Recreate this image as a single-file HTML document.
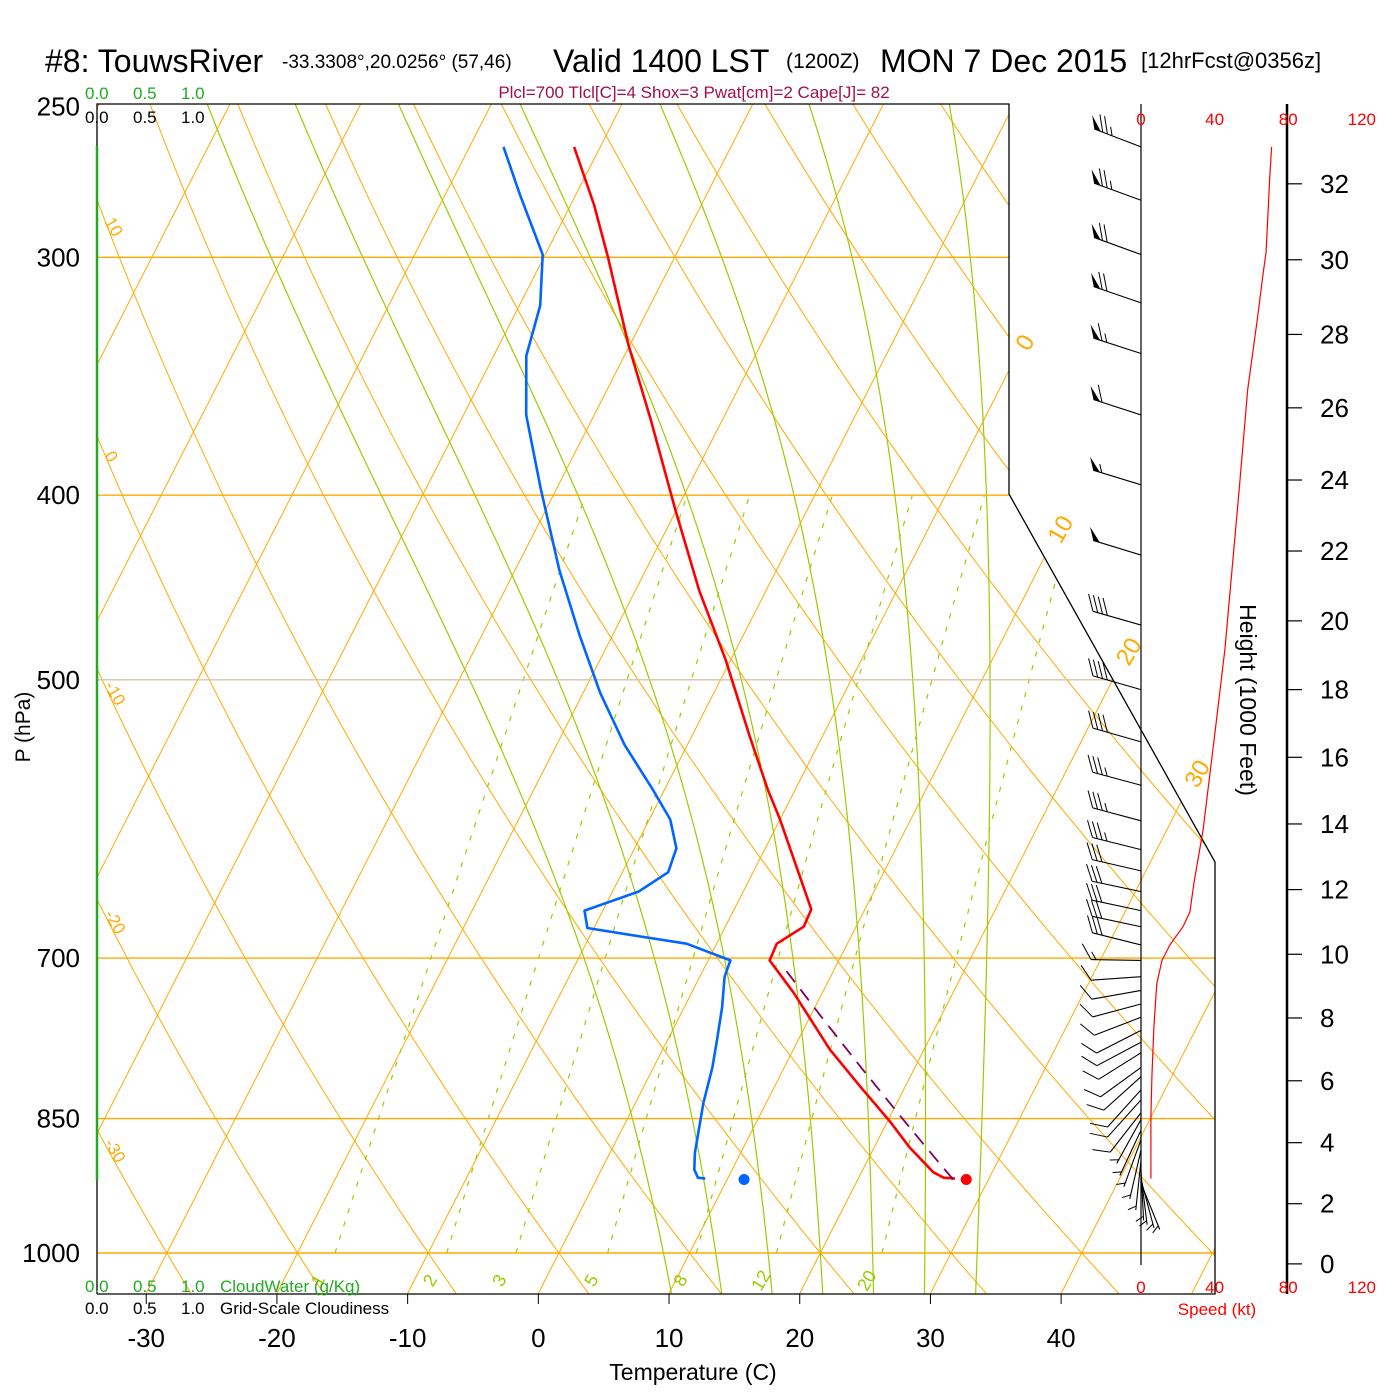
<!DOCTYPE html>
<html><head><meta charset="utf-8"><style>
html,body{margin:0;padding:0;background:#fff}
svg{display:block;font-family:"Liberation Sans",Arial,sans-serif}
</style></head><body>
<svg id="c" width="1400" height="1400" viewBox="0 0 1400 1400" xmlns="http://www.w3.org/2000/svg">
<defs><clipPath id="plotclip"><polygon points="97,104 1009,104 1009,494 1215,862 1215,1294 97,1294"/></clipPath></defs>
<rect width="1400" height="1400" fill="#fff"/>
<g id="title">
<text x="45" y="72" font-size="32">#8: TouwsRiver</text>
<text x="282" y="68" font-size="19">-33.3308°,20.0256° (57,46)</text>
<text x="553" y="72" font-size="32">Valid 1400 LST</text>
<text x="786" y="68" font-size="21">(1200Z)</text>
<text x="880" y="72" font-size="32">MON 7 Dec 2015</text>
<text x="1141" y="68" font-size="22">[12hrFcst@0356z]</text>
<text x="694" y="98" font-size="17" fill="#a0104a" text-anchor="middle">Plcl=700 Tlcl[C]=4 Shox=3 Pwat[cm]=2 Cape[J]= 82</text>
</g>
<g id="bg" clip-path="url(#plotclip)"></g>
<g id="frame"></g>
<g id="data"></g>
<g id="wind"></g>
<g id="axes"></g>
</svg>
<script>
const NS="http://www.w3.org/2000/svg";
// ---- data ----
const tempP=[262.5,281.6,300,333.6,365,407,449,488,535,571,592,660,674,688,702,730,782,819,853,880,907,913,914];
const tempT=[-42.0,-38.2,-35.1,-30.1,-25.5,-20.1,-15.1,-10.4,-5.6,-2.1,0.0,5.9,6.0,4.6,4.7,7.8,12.8,16.7,20.2,22.7,25.5,26.5,27.4];
const dewP=[262.5,278,299,318,338,363,397,438,474,508,541,571,592,613,631,646,661,675,682,688,702,716,743,770,799,834,886,904,913,914];
const dewT=[-47.4,-44.3,-40.2,-38.4,-37.5,-35.2,-31.2,-26.6,-22.5,-18.7,-14.8,-10.9,-8.4,-6.8,-6.5,-8.0,-11.4,-10.5,-6.1,-2.3,1.7,1.9,2.9,3.7,4.5,5.2,6.5,7.1,7.7,8.3];
const parcelP=[915,880,850,800,750,706];
const parcelStartT=27.3;
const sfcP=915, sfcT=28.3, sfcTd=11.3;
const windP=[262.5,280,299,317,337,363,395,430,468,506,539,568,593,614,630,646,661,674,689,702,716,728,740,752,764,775,785,799,808,821,831,844,851,862,872,883,894,905,910,915,919];
const windDir=[291,290,290,289,288,288,287,287,286,286,286,285,285,284,283,282,282,282,284,271,266,260,255,249,243,242,238,234,228,222,222,218,209,205,200,193,186,177,173,165,158];
const windSpd=[75,75,70,70,65,60,55,50,40,40,40,35,35,35,30,30,30,30,30,15,10,10,10,10,10,10,10,10,10,10,10,10,5,5,5,5,5,5,5,5,5];
const spdP=[262.5,272,298,308,322,352,396,482,535,600,639,662,674,689,702,722,761,808,848,914];
const spdV=[71,70,68,66,63.5,58,53.5,45.6,40,33.7,28.8,26.6,22.8,15.7,11.4,8.6,7,5.9,5.4,5.4];
const isotherms=[-110,-100,-90,-80,-70,-60,-50,-40,-30,-20,-10,0,10,20,30,40,50];
const dryAdiabats=[-30,-20,-10,0,10,20,30,40,50,60,70,80,90,100,110,120];
const moistAdiabats=[8,12,16,20,24,28,32];
const mixRatios=[1,2,3,5,8,12,20];
const pLevels=[250,300,400,500,700,850,1000];
const tTicks=[-30,-20,-10,0,10,20,30,40];
const hTicks=[0,2,4,6,8,10,12,14,16,18,20,22,24,26,28,30,32];
const spdTicks=[0,40,80,120];
// ---- scales ----
const yP=p=>1253-827*Math.log(1000/p);
const xTP=(T,p)=>538+13.07*T+0.51*(1294-yP(p));
const xSpd=s=>1141+1.84*s;
const pOfH=hk=>1013.25*Math.pow(1-6.8756e-6*hk*1000,5.2559);
const K=0.286;
function el(tag,attrs,parent,txt){const e=document.createElementNS(NS,tag);for(const k in attrs)e.setAttribute(k,attrs[k]);if(txt!==undefined)e.textContent=txt;parent.appendChild(e);return e;}
function pathD(pts){return pts.map((q,i)=>(i?'L':'M')+q[0].toFixed(1)+','+q[1].toFixed(1)).join('');}
const bg=document.getElementById('bg'),fr=document.getElementById('frame'),dg=document.getElementById('data'),wg=document.getElementById('wind'),ax=document.getElementById('axes');
const OR="#ffaa00",GR="#99cc00";
isotherms.forEach(T=>{const e=el('line',{x1:xTP(T,1050),y1:yP(1050),x2:xTP(T,240),y2:yP(240),stroke:OR,'stroke-width':1},bg);

});
dryAdiabats.forEach(th=>{const pts=[];for(let p=1050;p>=240;p-=10){const T=(th+273.15)*Math.pow(p/1000,K)-273.15;pts.push([xTP(T,p),yP(p)]);}
const e=el('path',{d:pathD(pts),fill:'none',stroke:OR,'stroke-width':1},bg);

});
function es(Tc){return 6.112*Math.exp(17.67*Tc/(Tc+243.5));}
function dTdp(T,p){const r=0.622*es(T-273.15)/(p-es(T-273.15));return (287*T+2.5e6*r)/(p*(1004+2.5e6*2.5e6*r*0.622/(287*T*T)));}
moistAdiabats.forEach(tw=>{let T=tw+273.15,p=1000;
const pts=[];let T2=tw+273.15,p2=1000;const lo=[];while(p2<1050){T2+=dTdp(T2,p2)*2;p2+=2;lo.push([xTP(T2-273.15,p2),yP(p2)]);}
lo.reverse();pts.push(...lo);pts.push([xTP(T-273.15,p),yP(p)]);while(p>240){T-=dTdp(T,p)*2;p-=2;pts.push([xTP(T-273.15,p),yP(p)]);}
const e=el('path',{d:pathD(pts),fill:'none',stroke:GR,'stroke-width':1.2},bg);

});
function tdOfW(w,p){const e=(w/1000)*p/(0.622+w/1000);const l=Math.log(e/6.112);return 243.5*l/(17.67-l);}
mixRatios.forEach(w=>{const pts=[];for(let p=1000;p>=400;p-=10)pts.push([xTP(tdOfW(w,p),p),yP(p)]);
const e=el('path',{d:pathD(pts),fill:'none',stroke:GR,'stroke-width':1.2,'stroke-dasharray':'5,9'},bg);


const lp=1030,lx=xTP(tdOfW(w,lp),lp)-4,ly=yP(lp)+6;
const t=el('text',{x:lx,y:ly,'font-size':18,fill:GR,transform:`rotate(-60 ${lx} ${ly})`,'text-anchor':'middle'},ax,String(w));

});
pLevels.forEach(p=>{if(p===250)return;const y=yP(p);const xr=y<494?1009:(y<862?1009+(y-494)*206/368:1215);
const col=(p===500)?'#d4c4a4':OR;const e=el('line',{x1:97,y1:y,x2:xr,y2:y,stroke:col,'stroke-width':1.4},fr);

});
const fp=el('polyline',{points:'97,146 97,104 1009,104 1009,494 1215,862 1215,1294 97,1294',fill:'none',stroke:'#000','stroke-width':1.3},fr);


const gl=el('line',{x1:97,y1:146,x2:97,y2:1180,stroke:'#22aa22','stroke-width':2.5},fr);


const gl2=el('line',{x1:97,y1:1180,x2:97,y2:1294,stroke:'#000','stroke-width':1.3},fr);


const xb=y=>y<494?1009:(y<862?1009+(y-494)*206/368:1215);
[0,10,20,30].forEach(T=>{let lo=104,hi=1294;for(let i=0;i<40;i++){const m=(lo+hi)/2;const p=1000*Math.exp(-(1253-m)/827);if(xTP(T,p)>xb(m))lo=m;else hi=m;}
const y=(lo+hi)/2-28,x=xb(y+28)+16;const t=el('text',{x:x,y:y+8,'font-size':24,fill:OR,'text-anchor':'middle',transform:`rotate(-60 ${x} ${y})`},ax,String(T));

});
[10,0,-10,-20,-30].forEach(th=>{let lo=104,hi=1294;for(let i=0;i<40;i++){const m=(lo+hi)/2;const p=1000*Math.exp(-(1253-m)/827);const T=(th+273.15)*Math.pow(p/1000,K)-273.15;if(xTP(T,p)<108)lo=m;else hi=m;}
const y=(lo+hi)/2;const t=el('text',{x:100,y:y,'font-size':17,fill:OR,transform:`rotate(60 108 ${y})`},ax,String(th));

});
const tl=el('path',{d:pathD(tempP.map((p,i)=>[xTP(tempT[i],p),yP(p)])),fill:'none',stroke:'#ff0000','stroke-width':2.6,'stroke-linejoin':'round'},dg);


const dl=el('path',{d:pathD(dewP.map((p,i)=>[xTP(dewT[i],p),yP(p)])),fill:'none',stroke:'#0066ff','stroke-width':2.6,'stroke-linejoin':'round'},dg);


const thP=(parcelStartT+273.15)*Math.pow(1000/parcelP[0],K);
const pl=el('path',{d:pathD(parcelP.map(p=>[xTP(thP*Math.pow(p/1000,K)-273.15,p),yP(p)])),fill:'none',stroke:'#800060','stroke-width':1.8,'stroke-dasharray':'14,9'},dg);


const rd=el('circle',{cx:xTP(sfcT,sfcP),cy:yP(sfcP),r:5.5,fill:'#ff0000'},dg);


const bd=el('circle',{cx:xTP(sfcTd,sfcP),cy:yP(sfcP),r:5.5,fill:'#0066ff'},dg);


const sa=el('line',{x1:1141,y1:104,x2:1141,y2:1265,stroke:'#000','stroke-width':1.2},wg);


const sp=el('path',{d:pathD(spdP.map((p,i)=>[xSpd(spdV[i]),yP(p)])),fill:'none',stroke:'#ff0000','stroke-width':1.2},wg);


windP.forEach((p,i)=>{const d=windDir[i]*Math.PI/180,ux=Math.sin(d),uy=-Math.cos(d),ax0=1141,ay0=yP(p),L=50;
const ex=ax0+L*ux,ey=ay0+L*uy;const px=-uy,py=ux;const bx=px*0.866+ux*0.5,by=py*0.866+uy*0.5;
const g=el('g',{},wg);


el('line',{x1:ax0,y1:ay0,x2:ex,y2:ey,stroke:'#000','stroke-width':1.1},g);
let s=Math.round(windSpd[i]/5)*5,pos=0;const BL=18;
while(s>=50){const x1=ex-ux*pos,y1=ey-uy*pos,x2=ex-ux*(pos+7),y2=ey-uy*(pos+7);
el('polygon',{points:`${x1},${y1} ${x2},${y2} ${x1+bx*14},${y1+by*14}`,fill:'#000'},g);pos+=9;s-=50;}
while(s>=10){const x1=ex-ux*pos,y1=ey-uy*pos;el('line',{x1:x1,y1:y1,x2:x1+bx*BL,y2:y1+by*BL,stroke:'#000','stroke-width':1},g);pos+=5;s-=10;}
if(s>=5){if(pos===0)pos=4;const x1=ex-ux*pos,y1=ey-uy*pos;el('line',{x1:x1,y1:y1,x2:x1+bx*BL/2,y2:y1+by*BL/2,stroke:'#000','stroke-width':1},g);}
});
pLevels.forEach(p=>{const t=el('text',{x:80,y:yP(p)+9,'font-size':26,'text-anchor':'end'},ax,String(p));

});
const pt=el('text',{x:30,y:727,'font-size':21,'text-anchor':'middle',transform:'rotate(-90 30 727)'},ax,'P (hPa)');


tTicks.forEach(T=>{const x=xTP(T,1050);el('line',{x1:x,y1:1294,x2:x,y2:1304,stroke:'#000','stroke-width':1},ax);
const t=el('text',{x:x,y:1347,'font-size':26,'text-anchor':'middle'},ax,String(T));

});
const tt=el('text',{x:693,y:1380,'font-size':23,'text-anchor':'middle'},ax,'Temperature (C)');


const hl=el('line',{x1:1287,y1:104,x2:1287,y2:1294,stroke:'#000','stroke-width':2.5},ax);


hTicks.forEach(h=>{const y=yP(pOfH(h));el('line',{x1:1287,y1:y,x2:1302,y2:y,stroke:'#000','stroke-width':1.2},ax);
const t=el('text',{x:1320,y:y+9,'font-size':26},ax,String(h));

});
const ht=el('text',{x:1240,y:700,'font-size':23,'text-anchor':'middle',transform:'rotate(90 1240 700)'},ax,'Height (1000 Feet)');


spdTicks.forEach(s=>{[125,1293].forEach(y=>{const t=el('text',{x:xSpd(s),y:y,'font-size':17,fill:'#ff0000','text-anchor':'middle'},ax,String(s));

});});
const st=el('text',{x:1217,y:1315,'font-size':17,fill:'#ff0000','text-anchor':'middle'},ax,'Speed (kt)');


[[99,'#22aa22',['0.0','0.5','1.0']],[123,'#000',['0.0','0.5','1.0']],[1292,'#22aa22',['0.0','0.5','1.0','CloudWater (g/Kg)']],[1314,'#000',['0.0','0.5','1.0','Grid-Scale Cloudiness']]].forEach(r=>{
const xs=[85,133,181,220];r[2].forEach((s,i)=>{const t=el('text',{x:xs[i],y:r[0],'font-size':17,fill:r[1]},ax,s);

});});
</script>
</body></html>
